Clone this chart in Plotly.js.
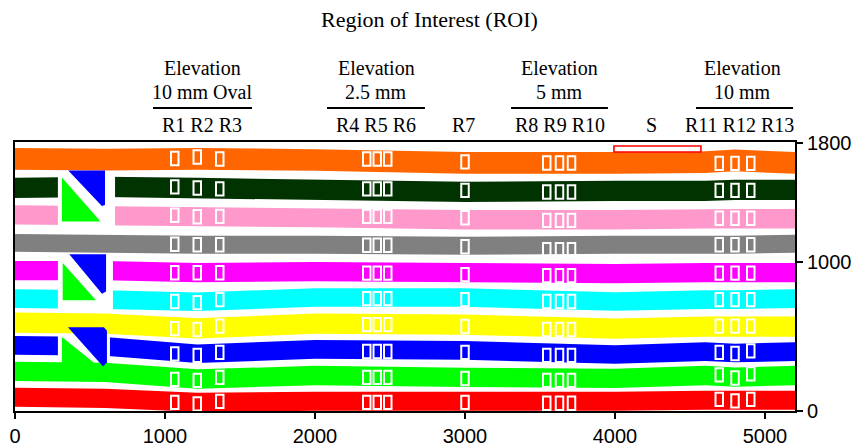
<!DOCTYPE html>
<html>
<head>
<meta charset="utf-8">
<script src="https://cdn.plot.ly/plotly-3.0.1.min.js"></script>
<style>html,body{margin:0;padding:0;background:#fff;}#chart{width:859px;height:446px;}</style>
</head>
<body>
<div id="chart"></div>
<script>
// ---------- DATA ----------
// x positions at which each stripe's centre line was read
const bandX = [0, 600, 1215, 2000, 3000, 4000, 4600, 4800, 5200];
// stripe centre lines (top to bottom)
const orangeY  = [1695, 1690, 1695, 1688, 1668, 1668, 1674, 1685, 1668];
const dkgreenY = [1500, 1507, 1500, 1487, 1473, 1480, 1480, 1487, 1487];
const pinkY    = [1319, 1313, 1306, 1300, 1286, 1286, 1293, 1293, 1293];
const grayY    = [1131, 1125, 1118, 1118, 1111, 1118, 1118, 1118, 1125];
const magentaY = [944, 944, 930, 937, 930, 924, 930, 930, 930];
const cyanY    = [756, 749, 735, 763, 763, 736, 749, 749, 756];
const yellowY  = [595, 588, 555, 588, 581, 554, 568, 568, 568];
const blueY    = [441, 434, 385, 414, 407, 380, 400, 390, 400];
const greenY   = [266, 260, 215, 239, 226, 219, 239, 228, 239];
const redY     = [92, 85, 58, 65, 65, 65, 72, 72, 72];
// stripe thickness
const bandThick = [146, 136, 130, 120, 130, 125, 136, 126, 130, 128];

// ROI x positions (R1..R13)
const roiX = [1065, 1215, 1365, 2345, 2415, 2485, 3000, 3545, 3630, 3710, 4695, 4800, 4905];
// ROI centre y for each stripe (R1..R13)
const roiOrange  = [1698, 1708, 1695, 1695, 1695, 1695, 1675, 1668, 1668, 1668, 1665, 1665, 1665];
const roiDkgreen = [1507, 1500, 1494, 1494, 1494, 1494, 1484, 1473, 1473, 1473, 1484, 1484, 1484];
const roiPink    = [1316, 1306, 1309, 1309, 1309, 1309, 1300, 1282, 1282, 1282, 1296, 1296, 1296];
const roiGray    = [1121, 1118, 1118, 1115, 1115, 1115, 1105, 1085, 1085, 1085, 1118, 1118, 1118];
const roiMagenta = [930, 930, 930, 927, 927, 927, 917, 910, 910, 910, 927, 927, 927];
const roiCyan    = [736, 729, 749, 756, 756, 756, 749, 736, 736, 736, 749, 749, 749];
const roiYellow  = [554, 548, 571, 581, 581, 581, 568, 548, 548, 548, 571, 571, 571];
const roiBlue    = [384, 374, 394, 400, 400, 400, 394, 374, 374, 374, 394, 387, 404];
const roiGreen   = [213, 206, 226, 226, 226, 226, 219, 206, 206, 206, 243, 222, 250];
const roiRed     = [58, 48, 65, 58, 58, 58, 58, 52, 52, 52, 78, 68, 78];

// gaps cut in the stripes around the three split squares: [x0, x1, y0, y1]
const gapRegions = [[286, 667, 1225, 1600], [286, 653, 668, 1042], [286, 633, 335, 512]];
// split squares: blue triangle and green triangle vertices
const blueTri1  = [[355, 1618], [600, 1618], [600, 1386], [579, 1378]];
const greenTri1 = [[313, 1570], [313, 1275], [570, 1275]];
const blueTri2  = [[362, 1054], [607, 1054], [607, 803], [580, 789]];
const greenTri2 = [[318, 995], [318, 745], [540, 745]];
const blueTri3  = [[353, 563], [593, 563], [613, 540], [613, 327], [587, 300]];
const greenTri3 = [[313, 497], [580, 280], [313, 280]];

// S region
const sRegion = [3993, 4573, 1742, 1782];

// texts
const chartTitle = 'Region of Interest (ROI)';
const elevTop = ['Elevation', 'Elevation', 'Elevation', 'Elevation'];
const elevSub = ['10 mm Oval', '2.5 mm', '5 mm', '10 mm'];
const roiLabels = ['R1 R2 R3', 'R4 R5 R6', 'R7', 'R8 R9 R10', 'S', 'R11 R12 R13'];
const xTicks = [0, 1000, 2000, 3000, 4000, 5000];
const yTicks = [0, 1000, 1800];

// ---------- STYLE / LAYOUT ----------
const bandColors = ['#ff6600', '#003300', '#ff99cc', '#808080', '#ff00ff', '#00ffff', '#ffff00', '#0000ff', '#00ff00', '#ff0000'];
const bandCentres = [orangeY, dkgreenY, pinkY, grayY, magentaY, cyanY, yellowY, blueY, greenY, redY];
const roiRows = [roiOrange, roiDkgreen, roiPink, roiGray, roiMagenta, roiCyan, roiYellow, roiBlue, roiGreen, roiRed];

const traces = bandCentres.map((c, i) => {
  const h = bandThick[i] / 2;
  const xs = bandX.concat(bandX.slice().reverse());
  const ys = c.map(v => v + h).concat(c.map(v => v - h).reverse());
  return {type: 'scatter', mode: 'lines', x: xs, y: ys, fill: 'toself',
          fillcolor: bandColors[i], line: {width: 0, color: bandColors[i]}, hoverinfo: 'skip'};
});

const shapes = [];
gapRegions.forEach(g => shapes.push({type: 'rect', xref: 'x', yref: 'y', x0: g[0], x1: g[1], y0: g[2], y1: g[3],
  fillcolor: '#ffffff', line: {width: 0}, layer: 'above'}));
function poly(pts, col) {
  const p = 'M' + pts.map(q => q[0] + ',' + q[1]).join(' L') + ' Z';
  shapes.push({type: 'path', xref: 'x', yref: 'y', path: p, fillcolor: col, line: {width: 0}, layer: 'above'});
}
poly(blueTri1, '#0000ff'); poly(greenTri1, '#00ff00');
poly(blueTri2, '#0000ff'); poly(greenTri2, '#00ff00');
poly(blueTri3, '#0000ff'); poly(greenTri3, '#00ff00');

const hw = 25, hh = 45;
roiRows.forEach(row => row.forEach((yc, j) => {
  shapes.push({type: 'rect', xref: 'x', yref: 'y', x0: roiX[j] - hw, x1: roiX[j] + hw, y0: yc - hh, y1: yc + hh,
    line: {color: '#ffffff', width: 2}, fillcolor: 'rgba(0,0,0,0)', layer: 'above'});
}));
shapes.push({type: 'rect', xref: 'x', yref: 'y', x0: sRegion[0], x1: sRegion[1], y0: sRegion[2], y1: sRegion[3],
  line: {color: '#ff0000', width: 1.6}, fillcolor: '#ffffff', layer: 'above'});

// group underlines
const groupLines = [[920, 1580], [2080, 2733], [3307, 3953], [4540, 5187]];
groupLines.forEach(g => shapes.push({type: 'line', xref: 'x', yref: 'paper', x0: g[0], x1: g[1], y0: 1.126, y1: 1.126,
  line: {color: '#000000', width: 2}}));

const serif = {family: 'Liberation Serif, Times New Roman, serif', size: 20, color: '#000'};
const annotations = [];
const groupCx = [1247, 2407, 3633, 4847];
groupCx.forEach((cx, i) => {
  annotations.push({x: cx, y: 1.275, xref: 'x', yref: 'paper', text: elevTop[i], showarrow: false, font: serif, xanchor: 'center', yanchor: 'middle'});
  annotations.push({x: cx, y: 1.186, xref: 'x', yref: 'paper', text: elevSub[i], showarrow: false, font: serif, xanchor: 'center', yanchor: 'middle'});
});
const labelCx = [1247, 2407, 2993, 3633, 4240, 4830];
labelCx.forEach((cx, i) => annotations.push({x: cx, y: 1.063, xref: 'x', yref: 'paper', text: roiLabels[i], showarrow: false,
  font: serif, xanchor: 'center', yanchor: 'middle'}));
annotations.push({x: 0.532, xref: 'paper', y: 1.457, yref: 'paper', text: chartTitle, showarrow: false,
  font: {family: 'Liberation Serif, Times New Roman, serif', size: 22, color: '#000'}, xanchor: 'center', yanchor: 'middle'});

const tickFont = {family: 'Liberation Sans, Arial, sans-serif', size: 20, color: '#000'};
const layout = {
  width: 859, height: 446,
  margin: {l: 15, r: 64, t: 142, b: 35},
  paper_bgcolor: '#ffffff', plot_bgcolor: '#ffffff',
  showlegend: false,
  xaxis: {range: [0, 5200], tickvals: xTicks, ticktext: xTicks.map(String), ticks: 'outside', ticklen: 6, tickwidth: 2,
    tickcolor: '#000', showline: true, linewidth: 2, linecolor: '#000', mirror: true, showgrid: false, zeroline: false,
    tickfont: tickFont, fixedrange: true},
  yaxis: {range: [0, 1809], side: 'right', tickvals: yTicks, ticktext: yTicks.map(String), ticks: 'outside', ticklen: 6, tickwidth: 2,
    tickcolor: '#000', showline: true, linewidth: 2, linecolor: '#000', mirror: true, showgrid: false, zeroline: false,
    tickfont: tickFont, fixedrange: true},
  shapes: shapes,
  annotations: annotations
};
Plotly.newPlot('chart', traces, layout, {displayModeBar: false, staticPlot: true});
</script>
</body>
</html>
